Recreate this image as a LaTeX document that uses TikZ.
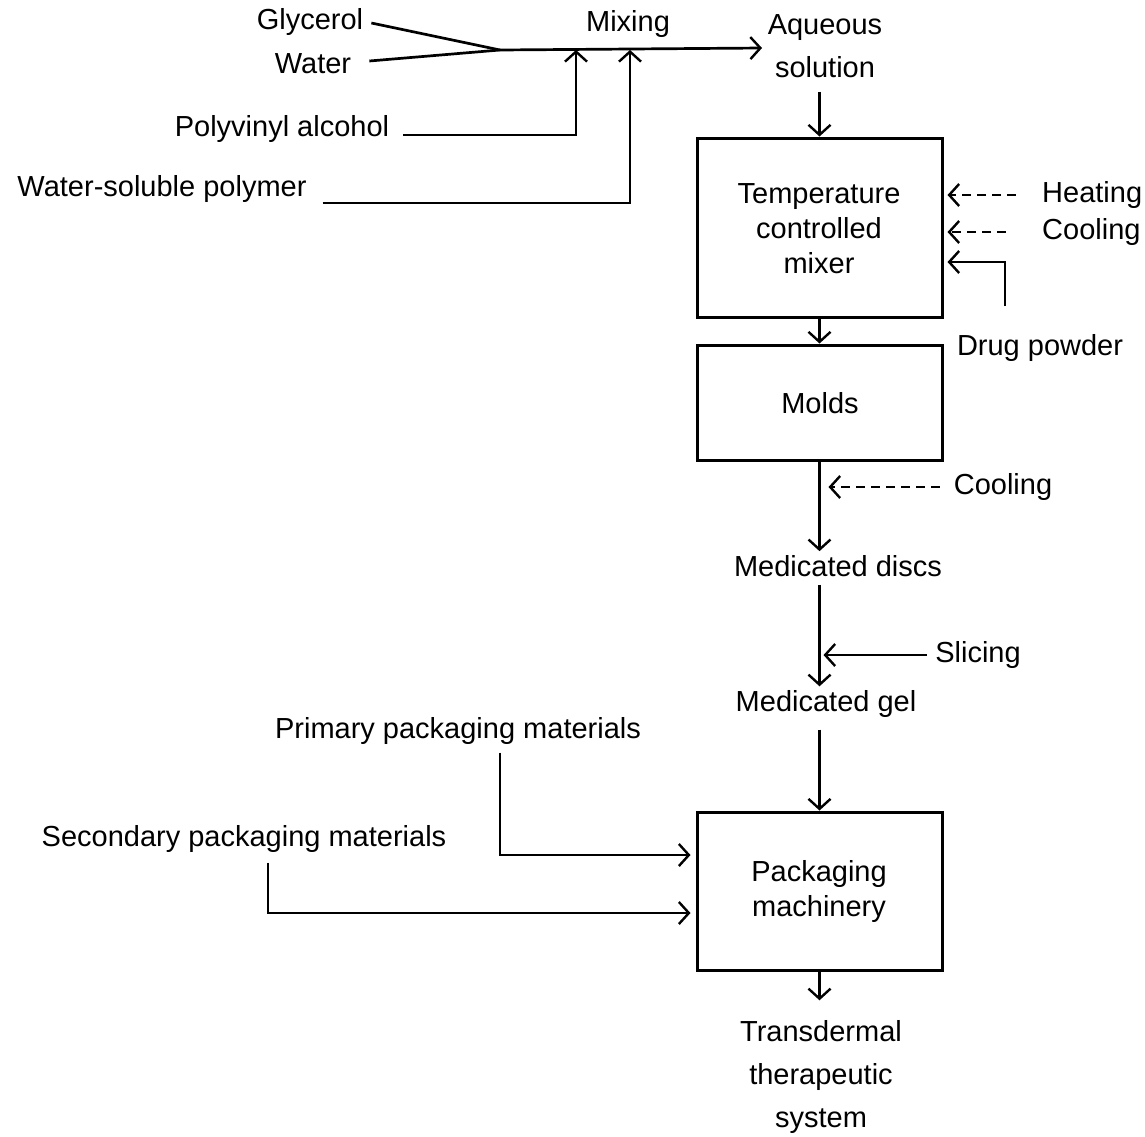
\documentclass[tikz,border=0pt]{standalone}
\usepackage{fontspec}
\setmainfont{Liberation Sans}
\usetikzlibrary{arrows.meta}
\begin{document}
\begin{tikzpicture}[x=1pt,y=-1pt,
  lbl/.style={inner sep=0pt, font=\fontsize{29}{43}\selectfont, align=center},
  boxlbl/.style={inner sep=0pt, font=\fontsize{29}{35}\selectfont, align=center},
  box/.style={draw, line width=3pt, inner sep=0pt, minimum width=245pt},
  plain/.style={line width=2.7pt},
  flow/.style={line width=2.7pt, -{Straight Barb[length=10pt,width=22pt,line width=2.4pt]}},
  dflow/.style={flow, dash pattern=on 9pt off 6pt},
]
\useasboundingbox (0,0) rectangle (1145,1136);

% raw materials and mixing
\node[lbl] (glyc) at (310,22) {Glycerol};
\node[lbl] (water) at (313,64) {Water};
\node[lbl] (mixing) at (628,24) {Mixing};
\node[lbl] (aq) at (825,46) {Aqueous\\solution};
\node[lbl] (pva) at (282,129) {Polyvinyl alcohol};
\node[lbl] (wsp) at (162,189) {Water-soluble polymer};

\coordinate (apex) at (500,50);
\coordinate (mixend) at (762,48);
\coordinate (m1) at (576,50);
\coordinate (m2) at (630,50);

\draw[plain] ([xshift=8pt,yshift=-1pt]glyc.east) -- (apex);
\draw[plain] ([xshift=18pt,yshift=3pt]water.east) -- (apex);
\draw[flow] (apex) -- (mixend);
\draw[flow] ([shift={(14,6)}]pva.east) -| (m1);
\draw[flow] ([shift={(16,14)}]wsp.east) -| (m2);

% processing boxes
\node[box, minimum height=179pt] (box1) at (819.5,227.5) {};
\node[boxlbl] (tcm) at (819,229) {Temperature\\controlled\\mixer};
\node[box, minimum height=115pt] (box2) at (819.5,402.5) {};
\node[boxlbl] (molds) at (820,403) {Molds};

\draw[flow] ([yshift=-14pt]box1.north |- aq.south) -- (box1.north);
\draw[flow] (box1.south) -- (box2.north);

% utilities for the mixer
\node[lbl, anchor=west] (heat) at (1042,195) {Heating};
\node[lbl, anchor=west] (cool1) at (1042,232) {Cooling};
\node[lbl] (drug) at (1040,348) {Drug powder};
\coordinate (h1) at (box1.east |- heat.west);
\coordinate (c1) at (box1.east |- cool1.west);
\coordinate (dp0) at (1005,306);
\coordinate (dp1) at (box1.east |- 0,262);
\draw[dflow, shorten >=4pt] ([xshift=-26pt]heat.west) -- (h1);
\draw[dflow, shorten >=4pt] ([xshift=-36pt]cool1.west) -- (c1);
\draw[flow, shorten >=4pt] (dp0) |- (dp1);

% moulding and slicing
\node[lbl] (cool2) at (1003,487) {Cooling};
\node[lbl] (discs) at (838,566) {Medicated discs};
\node[lbl] (slicing) at (978,655) {Slicing};
\node[lbl] (gel) at (826,704) {Medicated gel};
\coordinate (cl2) at (box2.south |- cool2.west);
\coordinate (sl) at (box2.south |- slicing.west);

\draw[flow] (box2.south) -- ([yshift=4pt]box2.south |- discs.north);
\draw[dflow, shorten >=9pt] ([xshift=-14pt]cool2.west) -- (cl2);
\draw[flow] ([yshift=-8pt]box2.south |- discs.south) -- ([yshift=4pt]box2.south |- gel.north);
\draw[flow, shorten >=4pt] ([xshift=-8pt]slicing.west) -- (sl);

% packaging
\node[box, minimum height=158pt] (box3) at (819.5,891) {};
\node[boxlbl] (pack) at (819,891) {Packaging\\machinery};
\node[lbl] (prim) at (458,731) {Primary packaging materials};
\node[lbl] (sec) at (244,839) {Secondary packaging materials};
\node[lbl] (tts) at (821,1077) {Transdermal\\therapeutic\\system};

\draw[flow] ([yshift=-12pt]box3.north |- gel.south) -- (box3.north);
\draw[flow, shorten >=5pt] ([xshift=42pt,yshift=-8pt]prim.south) |- ([yshift=36pt]box3.west);
\draw[flow, shorten >=5pt] ([xshift=24pt,yshift=-10pt]sec.south) |- ([yshift=-22pt]box3.west);
\draw[flow] (box3.south) -- ([yshift=20pt]box3.south |- tts.north);
\end{tikzpicture}
\end{document}
